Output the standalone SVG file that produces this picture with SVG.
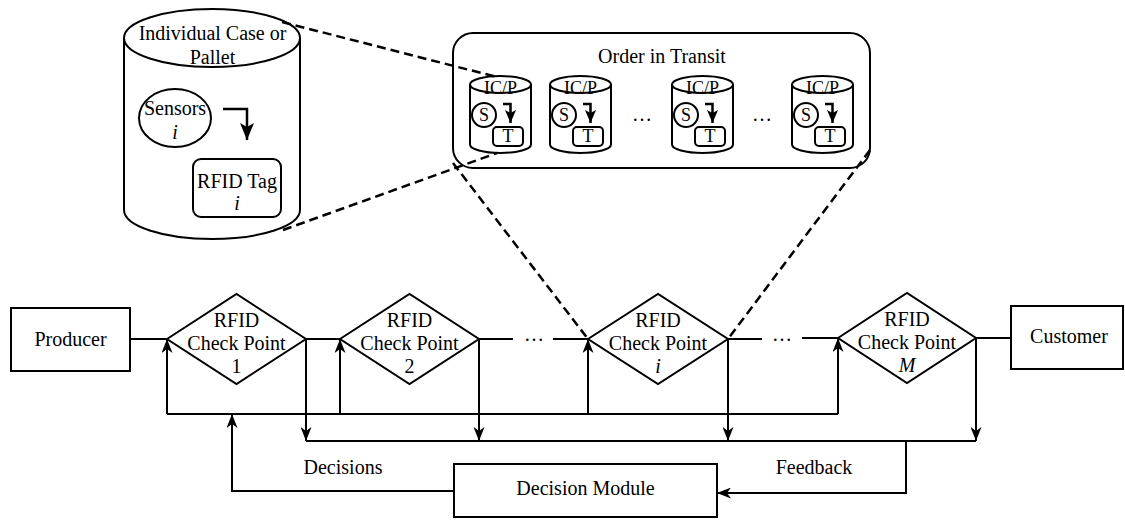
<svg xmlns="http://www.w3.org/2000/svg" width="1125" height="520" viewBox="0 0 1125 520">
<style>
.t{font-family:'Liberation Serif','Times New Roman',serif;font-size:20px;text-anchor:middle;fill:#000}
.it{font-style:italic}
.s{font-size:18px}
.shape{fill:#fff;stroke:#000;stroke-width:2}
.ln{fill:none;stroke:#000;stroke-width:2}
.arrow{marker-end:url(#arr)}
.dash{fill:none;stroke:#000;stroke-width:2.5;stroke-dasharray:9 5}
.sarr{fill:none;stroke:#000;stroke-width:2.5;marker-end:url(#arrSm)}
</style>
<defs>
<marker id="arr" viewBox="0 0 14 11" refX="14" refY="5.5" markerWidth="14" markerHeight="11" markerUnits="userSpaceOnUse" orient="auto">
<path d="M0,0 L14,5.5 L0,11 L4,5.5 Z" fill="#000"/>
</marker>
<marker id="arrBig" viewBox="0 0 17 14" refX="17" refY="7" markerWidth="17" markerHeight="14" markerUnits="userSpaceOnUse" orient="auto">
<path d="M0,0 L17,7 L0,14 L4,7 Z" fill="#000"/>
</marker>
<marker id="arrSm" viewBox="0 0 13 11" refX="13" refY="5.5" markerWidth="13" markerHeight="11" markerUnits="userSpaceOnUse" orient="auto">
<path d="M0,0 L13,5.5 L0,11 L3,5.5 Z" fill="#000"/>
</marker>
</defs>
<rect width="1125" height="520" fill="#fff"/>

<g id="case-pallet">
<path class="shape" d="M124,38 V210 A88,29 0 0 0 300,210 V38"/>
<ellipse class="shape" cx="212" cy="38" rx="88" ry="29"/>
<text class="t" x="212.5" y="40">Individual Case or</text>
<text class="t" x="212.5" y="64">Pallet</text>
<ellipse class="shape" cx="175" cy="118" rx="36" ry="29"/>
<text class="t" x="175" y="115">Sensors</text>
<text class="t it" x="175" y="139">i</text>
<path d="M223,109 H247 V140" fill="none" stroke="#000" stroke-width="2.5" marker-end="url(#arrBig)"/>
<rect class="shape" x="193" y="159" width="88" height="58" rx="8"/>
<text class="t" x="237" y="188">RFID Tag</text>
<text class="t it" x="237" y="210">i</text>
</g>

<g id="order-in-transit">
<rect x="453" y="33" width="417" height="135" rx="20" fill="none" stroke="#000" stroke-width="2"/>
<text class="t" x="662" y="63">Order in Transit</text>
<text class="t" x="642" y="121">…</text>
<text class="t" x="762" y="121">…</text>
</g>

<g id="icp1" transform="translate(500.5,0)">
<path class="shape" d="M-30.5,84.5 V144.5 A30.5,8.5 0 0 0 30.5,144.5 V84.5"/>
<ellipse class="shape" cx="0" cy="84.5" rx="30.5" ry="8.5"/>
<text class="t s" x="0" y="94">IC/P</text>
<circle class="shape" cx="-16.5" cy="115" r="12"/>
<text class="t s" x="-16.5" y="121">S</text>
<path class="sarr" d="M2.5,104 H10 V123"/>
<rect class="shape" x="-7.5" y="127" width="30" height="19" rx="4"/>
<text class="t s" x="7.5" y="142">T</text>
</g>
<g id="icp2" transform="translate(580.5,0)">
<path class="shape" d="M-30.5,84.5 V144.5 A30.5,8.5 0 0 0 30.5,144.5 V84.5"/>
<ellipse class="shape" cx="0" cy="84.5" rx="30.5" ry="8.5"/>
<text class="t s" x="0" y="94">IC/P</text>
<circle class="shape" cx="-16.5" cy="115" r="12"/>
<text class="t s" x="-16.5" y="121">S</text>
<path class="sarr" d="M2.5,104 H10 V123"/>
<rect class="shape" x="-7.5" y="127" width="30" height="19" rx="4"/>
<text class="t s" x="7.5" y="142">T</text>
</g>
<g id="icp3" transform="translate(702.5,0)">
<path class="shape" d="M-30.5,84.5 V144.5 A30.5,8.5 0 0 0 30.5,144.5 V84.5"/>
<ellipse class="shape" cx="0" cy="84.5" rx="30.5" ry="8.5"/>
<text class="t s" x="0" y="94">IC/P</text>
<circle class="shape" cx="-16.5" cy="115" r="12"/>
<text class="t s" x="-16.5" y="121">S</text>
<path class="sarr" d="M2.5,104 H10 V123"/>
<rect class="shape" x="-7.5" y="127" width="30" height="19" rx="4"/>
<text class="t s" x="7.5" y="142">T</text>
</g>
<g id="icp4" transform="translate(822.5,0)">
<path class="shape" d="M-30.5,84.5 V144.5 A30.5,8.5 0 0 0 30.5,144.5 V84.5"/>
<ellipse class="shape" cx="0" cy="84.5" rx="30.5" ry="8.5"/>
<text class="t s" x="0" y="94">IC/P</text>
<circle class="shape" cx="-16.5" cy="115" r="12"/>
<text class="t s" x="-16.5" y="121">S</text>
<path class="sarr" d="M2.5,104 H10 V123"/>
<rect class="shape" x="-7.5" y="127" width="30" height="19" rx="4"/>
<text class="t s" x="7.5" y="142">T</text>
</g>

<g id="producer">
<rect class="shape" x="11" y="308" width="119" height="63"/>
<text class="t" x="70.5" y="346">Producer</text>
</g>
<g id="checkpoint-1">
<polygon class="shape" points="167,339 236.5,294 306,339 236.5,384"/>
<text class="t" x="236.5" y="327">RFID</text>
<text class="t" x="236.5" y="350">Check Point</text>
<text class="t" x="236.5" y="373">1</text>
</g>
<g id="checkpoint-2">
<polygon class="shape" points="340,339 409.5,294 479,339 409.5,384"/>
<text class="t" x="409.5" y="327">RFID</text>
<text class="t" x="409.5" y="350">Check Point</text>
<text class="t" x="409.5" y="373">2</text>
</g>
<g id="checkpoint-i">
<polygon class="shape" points="588,339 658,294 728,339 658,384"/>
<text class="t" x="658" y="327">RFID</text>
<text class="t" x="658" y="350">Check Point</text>
<text class="t it" x="658" y="373">i</text>
</g>
<g id="checkpoint-M">
<polygon class="shape" points="838,338 907,293 976,338 907,383"/>
<text class="t" x="907" y="326">RFID</text>
<text class="t" x="907" y="349">Check Point</text>
<text class="t it" x="907" y="372">M</text>
</g>
<g id="customer">
<rect class="shape" x="1011" y="306" width="112" height="63"/>
<text class="t" x="1069" y="343">Customer</text>
</g>
<g id="decision-module">
<rect class="shape" x="454" y="464" width="263" height="53"/>
<text class="t" x="585.5" y="495">Decision Module</text>
</g>

<g id="connectors">
<path class="ln" d="M130,339 H167"/>
<path class="ln" d="M306,339 H340"/>
<path class="ln" d="M479,339 H513"/>
<text class="t" x="534" y="341">…</text>
<path class="ln" d="M553,339 H588"/>
<path class="ln" d="M728,339 H762"/>
<text class="t" x="782" y="341">…</text>
<path class="ln" d="M802,338 H838"/>
<path class="ln" d="M976,338 H1011"/>
<path class="ln" d="M167,414 H838"/>
<path class="ln arrow" d="M167,414 V339"/>
<path class="ln arrow" d="M340,414 V339"/>
<path class="ln arrow" d="M588,414 V339"/>
<path class="ln arrow" d="M838,414 V338"/>
<path class="ln" d="M306,441 H976"/>
<path class="ln arrow" d="M306,339 V441"/>
<path class="ln arrow" d="M479,339 V441"/>
<path class="ln arrow" d="M728,339 V441"/>
<path class="ln arrow" d="M976,338 V441"/>
<path class="ln arrow" d="M454,491 H232 V414"/>
<text class="t" x="343" y="474">Decisions</text>
<path class="ln arrow" d="M906,441 V493 H717"/>
<text class="t" x="814" y="474">Feedback</text>
<path class="dash" d="M282,22 L497,77"/>
<path class="dash" d="M283,230 L497,153"/>
<path class="dash" d="M453,163 L588,339"/>
<path class="dash" d="M870,150 L728,339"/>
</g>
</svg>
